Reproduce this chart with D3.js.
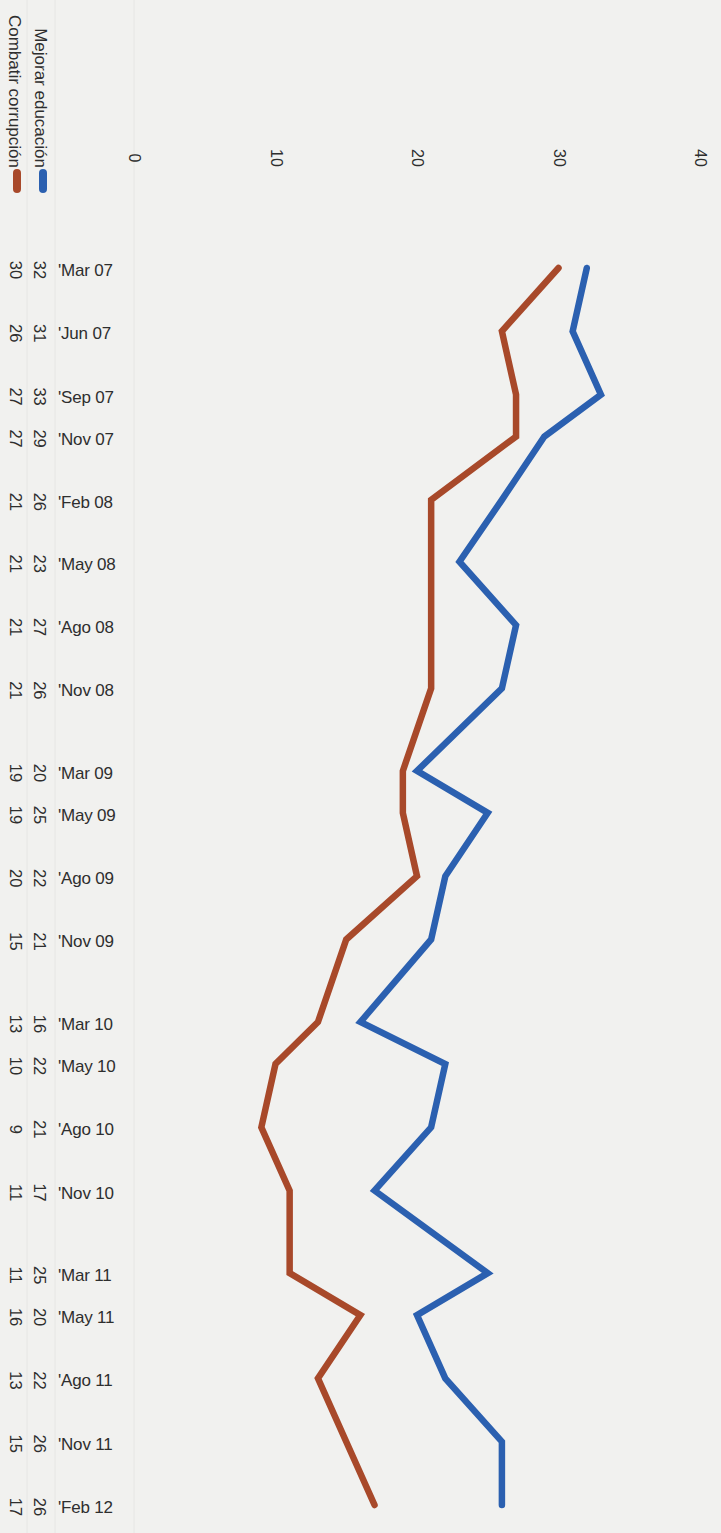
<!DOCTYPE html>
<html>
<head>
<meta charset="utf-8">
<script src="https://cdn.jsdelivr.net/npm/d3@7"></script>
<style>
  html, body { margin: 0; padding: 0; background: #f1f1ef; }
  svg { display: block; }
  text { font-family: "Liberation Sans", Arial, Helvetica, sans-serif; fill: #2e2e2e; }
</style>
</head>
<body>
<script>
// ---- data ----
const dateLabels = ["'Mar 07","'Jun 07","'Sep 07","'Nov 07","'Feb 08","'May 08","'Ago 08","'Nov 08",
  "'Mar 09","'May 09","'Ago 09","'Nov 09","'Mar 10","'May 10","'Ago 10","'Nov 10",
  "'Mar 11","'May 11","'Ago 11","'Nov 11","'Feb 12"];
const dateValues = ["2007-03","2007-06","2007-09","2007-11","2008-02","2008-05","2008-08","2008-11",
  "2009-03","2009-05","2009-08","2009-11","2010-03","2010-05","2010-08","2010-11",
  "2011-03","2011-05","2011-08","2011-11","2012-02"];
const educacion = [32,31,33,29,26,23,27,26,20,25,22,21,16,22,21,17,25,20,22,26,26];
const corrupcion = [30,26,27,27,21,21,21,21,19,19,20,15,13,10,9,11,11,16,13,15,17];
const seriesNames = ["Mejorar educación","Combatir corrupción"];
const valueTicks = [0,10,20,30,40];

// ---- setup ----
const W = 721, H = 1533;
const blue = "#2b60b0", red = "#a8492a";
const parse = d3.timeParse("%Y-%m");
const dates = dateValues.map(parse);

const svg = d3.select("body").append("svg").attr("width", W).attr("height", H);
svg.append("rect").attr("width", W).attr("height", H).attr("fill", "#f1f1ef");

const x = d3.scaleLinear().domain([0, 40]).range([134, 700]);
const y = d3.scaleTime().domain([dates[0], dates[dates.length - 1]]).range([268, 1505]);

// faint scan lines (plot/table borders)
[27, 55, 134].forEach(px => {
  svg.append("line").attr("x1", px).attr("x2", px).attr("y1", 0).attr("y2", H)
    .attr("stroke", "#e6e6e4").attr("stroke-width", 1);
});

// value axis (rotated labels)
const vAxis = svg.append("g").attr("transform", "translate(0,158)")
  .call(d3.axisTop(x).tickValues(valueTicks).tickSize(0).tickFormat(d3.format("d")));
vAxis.select(".domain").remove();
vAxis.selectAll("text")
  .attr("y", 0).attr("dy", null)
  .attr("transform", "rotate(90)")
  .attr("text-anchor", "middle")
  .attr("dominant-baseline", "central")
  .style("font-size", "16px")
  .style("fill", "#2e2e2e");

// date axis (horizontal labels)
const dAxis = svg.append("g").attr("transform", "translate(58,2)")
  .call(d3.axisLeft(y).tickValues(dates).tickSize(0).tickFormat((d, i) => dateLabels[i]));
dAxis.select(".domain").remove();
dAxis.selectAll("text")
  .attr("x", 0).attr("dy", null)
  .attr("text-anchor", "start")
  .attr("dominant-baseline", "central")
  .style("font-size", "17px")
  .style("letter-spacing", "-0.2px")
  .style("fill", "#2e2e2e");

// lines
const line = d3.line().x(d => x(d.v)).y(d => y(d.d));
const mk = arr => arr.map((v, i) => ({ v, d: dates[i] }));
[[corrupcion, red], [educacion, blue]].forEach(([arr, col]) => {
  svg.append("path").datum(mk(arr)).attr("d", line)
    .attr("fill", "none").attr("stroke", col).attr("stroke-width", 6.5)
    .attr("stroke-linejoin", "miter").attr("stroke-linecap", "round");
});

// data table (rotated numbers)
[[educacion, 40], [corrupcion, 15.5]].forEach(([arr, cx]) => {
  svg.append("g").selectAll("text").data(mk(arr)).join("text")
    .attr("transform", d => `translate(${cx},${y(d.d) + 2}) rotate(90)`)
    .attr("text-anchor", "middle")
    .attr("dominant-baseline", "central")
    .style("font-size", "16.5px")
    .text(d => d.v);
});

// legend
[[seriesNames[0], blue, 40, 43], [seriesNames[1], red, 14.5, 17]].forEach(([name, col, tx, mx]) => {
  svg.append("text")
    .attr("transform", `translate(${tx},168) rotate(90)`)
    .attr("text-anchor", "end")
    .attr("dominant-baseline", "central")
    .style("font-size", "17px")
    .text(name);
  svg.append("line").attr("x1", mx).attr("x2", mx).attr("y1", 173).attr("y2", 189)
    .attr("stroke", col).attr("stroke-width", 8).attr("stroke-linecap", "round");
});
</script>
</body>
</html>
